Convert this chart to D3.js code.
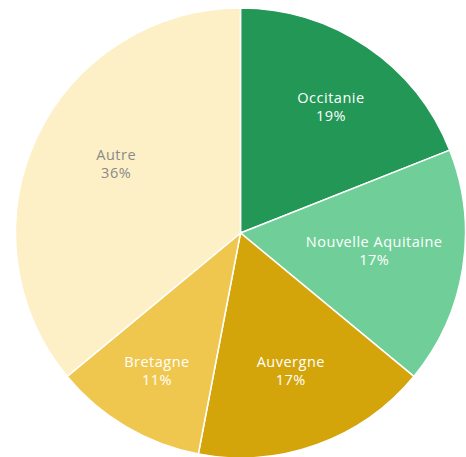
<!DOCTYPE html>
<html>
<head>
<meta charset="utf-8">
<script src="https://cdn.jsdelivr.net/npm/d3@7"></script>
<style>
  body { margin: 0; background: #fff; }
  svg { display: block; }
  text { font-family: 'Open Sans', sans-serif; font-size: 14.5px; letter-spacing: 0.5px; }
</style>
</head>
<body>
<svg></svg>
<script>
const regions = ['Occitanie', 'Nouvelle Aquitaine', 'Auvergne', 'Bretagne', 'Autre']
const shares = [19, 17, 17, 11, 36]
const colors = ['#239756', '#70cf98', '#d4a50b', '#f0c74e', '#fdf0c6']
const labelColors = ['#fff', '#fff', '#fff', '#fff', '#8a8a8a']

const WIDTH = 466
const HEIGHT = 457
const CX = 240.5
const CY = 233
const RADIUS = 225
const LINE_GAP = 18

// small nudges so the labels sit where the original layout put them
const LABEL_NUDGE = [[7, -4], [-13, -6], [0, -3], [-8, 9], [10, -7]]

const svg = d3.select('svg')
  .attr('width', WIDTH)
  .attr('height', HEIGHT)

const pie = d3.pie().sort(null).value(d => d)
const arcs = pie(shares)

const arc = d3.arc().innerRadius(0).outerRadius(RADIUS)
const labelArc = d3.arc().innerRadius(RADIUS * 0.66).outerRadius(RADIUS * 0.66)

const g = svg.append('g')
  .attr('transform', `translate(${CX}, ${CY})`)

g.selectAll('path')
  .data(arcs)
  .enter()
  .append('path')
  .attr('d', arc)
  .attr('fill', (d, i) => colors[i])
  .attr('stroke', '#fff')
  .attr('stroke-width', 1.5)

const labels = g.selectAll('text')
  .data(arcs)
  .enter()
  .append('text')
  .attr('transform', (d, i) => {
    const [x, y] = labelArc.centroid(d)
    return `translate(${x + LABEL_NUDGE[i][0]}, ${y + LABEL_NUDGE[i][1]})`
  })
  .attr('text-anchor', 'middle')
  .attr('dominant-baseline', 'central')
  .attr('fill', (d, i) => labelColors[i])

labels.append('tspan')
  .attr('x', 0)
  .attr('y', -LINE_GAP / 2)
  .text((d, i) => regions[i])

labels.append('tspan')
  .attr('x', 0)
  .attr('y', LINE_GAP / 2)
  .text((d, i) => shares[i] + '%')
</script>
</body>
</html>
